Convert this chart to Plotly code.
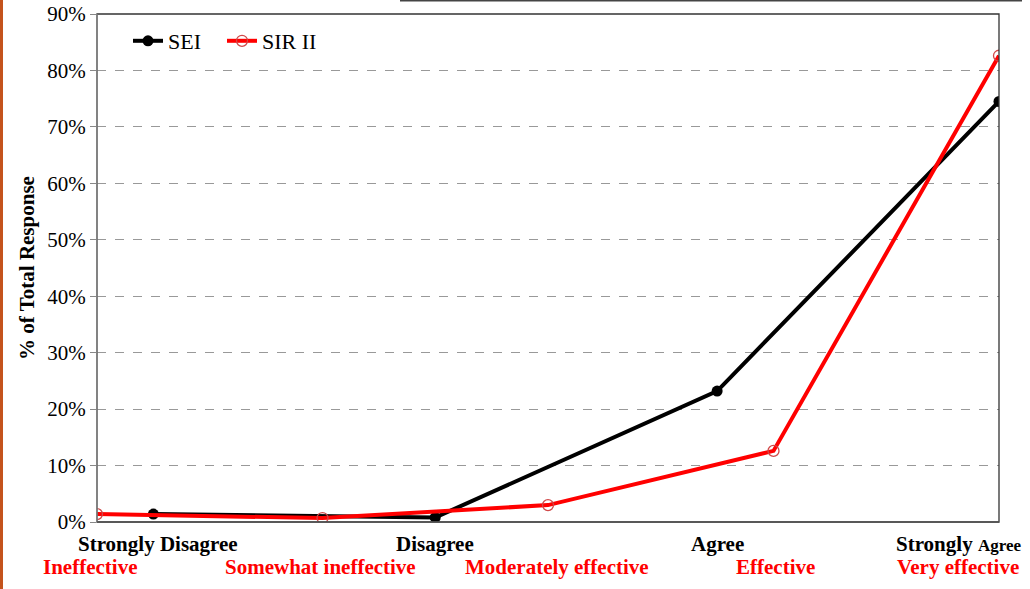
import plotly.graph_objects as go

# ---- data ----
sei_labels = ["Strongly Disagree", "Disagree", "Agree", "Strongly Agree"]
sei_pos = [0.25, 1.5, 2.75, 4.0]
sei_values = [1.4, 0.8, 23.2, 74.5]

sir_labels = ["Ineffective", "Somewhat ineffective", "Moderately effective", "Effective", "Very effective"]
sir_pos = [0, 1, 2, 3, 4]
sir_values = [1.4, 0.7, 3.0, 12.6, 82.6]

y_ticks = [0, 10, 20, 30, 40, 50, 60, 70, 80, 90]

W, H = 1030, 589
L, R, T, B = 97, 31, 14, 67
PW, PH = W - L - R, H - T - B
XMAX = 4.0


def px(xp):
    return (xp - L) / PW


def py(yp):
    return (H - B - yp) / PH


FONT = "Liberation Serif, Times New Roman, serif"

fig = go.Figure()
fig.add_trace(go.Scatter(
    x=sei_pos, y=sei_values, name="SEI", mode="lines+markers",
    line=dict(color="black", width=4),
    marker=dict(color="black", size=11, symbol="circle"),
))
fig.add_trace(go.Scatter(
    x=sir_pos, y=sir_values, name="SIR II", mode="lines+markers",
    line=dict(color="#ff0000", width=4),
    marker=dict(color="#d04848", size=11, symbol="circle-open", line=dict(width=1.3)),
))

annotations = []
sei_shift = [0.02, 0.0, 0.0, -0.18]
for lab, xv, s in zip(sei_labels, sei_pos, sei_shift):
    text = f"<b>{lab}</b>"
    if lab == "Strongly Agree":
        text = "<b>Strongly <span style='font-size:17px'>Agree</span></b>"
    annotations.append(dict(x=(xv + s) / XMAX, y=py(544), xref="paper", yref="paper", text=text,
                            showarrow=False, font=dict(family=FONT, size=21, color="black"),
                            xanchor="center", yanchor="middle"))
sir_shift = [-0.03, -0.01, 0.04, 0.01, -0.18]
for lab, xv, s in zip(sir_labels, sir_pos, sir_shift):
    annotations.append(dict(x=(xv + s) / XMAX, y=py(567), xref="paper", yref="paper", text=f"<b>{lab}</b>",
                            showarrow=False, font=dict(family=FONT, size=21, color="#ff0000"),
                            xanchor="center", yanchor="middle"))

shapes = [
    dict(type="rect", xref="paper", yref="paper", x0=0, x1=1, y0=0, y1=1,
         line=dict(color="#333333", width=1.3)),
    dict(type="line", xref="paper", yref="paper", x0=0, x1=0, y0=0, y1=1,
         line=dict(color="#888888", width=1.3)),
    dict(type="line", xref="paper", yref="paper", x0=0, x1=1, y0=0, y1=0,
         line=dict(color="#555555", width=1.5)),
    dict(type="line", xref="paper", yref="paper", x0=px(400), x1=px(1022), y0=py(0.5), y1=py(0.5),
         line=dict(color="#444444", width=2)),
    dict(type="rect", xref="paper", yref="paper", x0=px(0), x1=px(3), y0=py(H), y1=py(0),
         fillcolor="#c4531c", line=dict(width=0)),
]

fig.update_layout(
    width=W, height=H,
    margin=dict(l=L, r=R, t=T, b=B, pad=0, autoexpand=False),
    paper_bgcolor="white", plot_bgcolor="white",
    font=dict(family=FONT, size=21, color="black"),
    showlegend=True,
    legend=dict(x=px(128), y=py(20), xanchor="left", yanchor="top", orientation="h",
                font=dict(family=FONT, size=22, color="black"), bgcolor="rgba(0,0,0,0)",
                entrywidth=49, entrywidthmode="pixels", tracegroupgap=0),
    xaxis=dict(range=[0, XMAX], showgrid=False, zeroline=False, showticklabels=False,
               showline=False, ticks="", automargin=False),
    yaxis=dict(range=[0, 90], tickvals=y_ticks, ticktext=[f"{v}%" for v in y_ticks],
               showgrid=True, gridcolor="#999999", griddash="dash", gridwidth=1,
               zeroline=False, showline=False, ticks="outside", ticklen=6, tickcolor="#888888",
               tickfont=dict(family=FONT, size=21, color="black"), automargin=False,
               title=dict(text="<b>% of Total Response</b>", font=dict(family=FONT, size=21),
                          standoff=6)),
    annotations=annotations,
    shapes=shapes,
)

fig.write_html("out.html")
